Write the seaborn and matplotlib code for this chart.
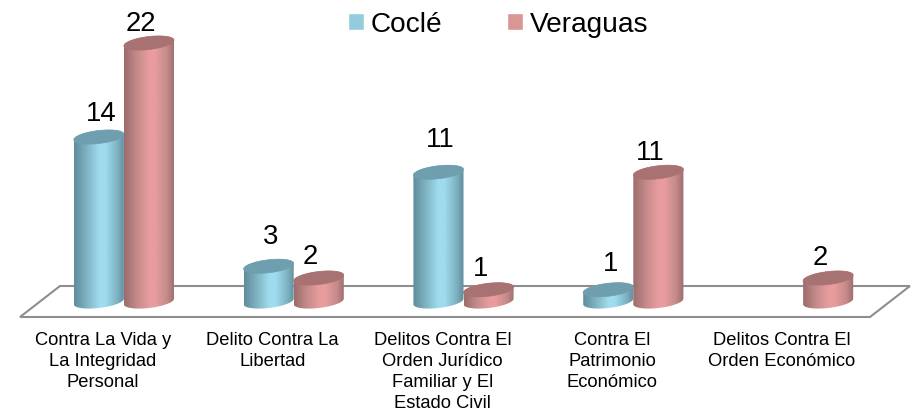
import numpy as np
import pandas as pd
import matplotlib
matplotlib.use('Agg')
import matplotlib.pyplot as plt
from matplotlib.colors import LinearSegmentedColormap
from matplotlib.patches import Polygon
from matplotlib.transforms import ScaledTranslation
import seaborn as sns

categories = ['Contra La Vida y\nLa Integridad\nPersonal',
              'Delito Contra La\nLibertad',
              'Delitos Contra El\nOrden Jurídico\nFamiliar y El\nEstado Civil',
              'Contra El\nPatrimonio\nEconómico',
              'Delitos Contra El\nOrden Económico']
coclé = [14, 3, 11, 1, np.nan]
veraguas = [22, 2, 1, 11, 2]
series_names = ['Coclé', 'Veraguas']

# label nudges, in pixels (the original has them placed by hand)
coclé_label_dy = [23, 29, 32, 26, 0]
veraguas_label_dy = [19, 21, 21, 19, 20]

W, H = 913, 411
sns.set_theme(style='white')
plt.rcParams['font.family'] = ['Liberation Sans', 'DejaVu Sans']
plt.rcParams['text.color'] = 'black'
plt.rcParams['xtick.color'] = 'black'

df = pd.DataFrame({'cat': categories * 2,
                   'serie': [series_names[0]] * 5 + [series_names[1]] * 5,
                   'val': coclé + veraguas})

fig = plt.figure(figsize=(W / 100, H / 100), dpi=100)
ax = fig.add_axes([39 / W, (H - 301.5) / H, 849 / W, 25 * 11.75 / H])
ax.patch.set_alpha(0)

pal = ['#93cddd', '#d99694']
sns.barplot(data=df, x='cat', y='val', hue='serie', palette=pal, width=0.59,
            gap=0, saturation=1, ax=ax)
ax.set_xlim(-0.5, 4.5)
ax.set_ylim(0, 25)

# floor of the 3D chart
def px(x, y):
    return (x / W, (H - y) / H)

floor = Polygon([px(20, 317), px(60, 286), px(910, 286), px(870, 317)], closed=True,
                transform=fig.transFigure, clip_on=False, fc='white', ec='#8e8e8e',
                lw=1.5, zorder=0.5)
ax.add_patch(floor)

# cylinders on top of the (hidden) seaborn bars
shades = [('#5f8d9b', '#7fb3c3', '#9edcee', '#6f9fae'),
          ('#9c6c6c', '#c48a8a', '#e89c9d', '#a87272')]
offsets = [2, -8]
dys = [coclé_label_dy, veraguas_label_dy]
b = 6.5 / 11.75
k = 2.8 / 11.75
t = np.linspace(0, 2 * np.pi, 80)
z = 2
for i, cont in enumerate(ax.containers):
    dark, mid, light, top = shades[i]
    cmap = LinearSegmentedColormap.from_list('c', [(0, dark), (0.25, mid), (0.5, light), (0.62, light), (0.85, mid), (1, dark)])
    for j, bar in enumerate(cont):
        bar.set_visible(False)
        h = bar.get_height()
        if np.isnan(h) or h == 0:
            continue
        x0 = bar.get_x()
        w = bar.get_width()
        cx = x0 + w / 2
        a = w / 2
        # outline: lower half of the base ellipse, then upper half at the top
        lo = t[(t >= np.pi)]
        hi = t[(t <= np.pi)]
        xs = np.r_[cx + a * np.cos(lo), cx + a * np.cos(hi)]
        ys = np.r_[b * np.sin(lo) + k * np.cos(lo), h + b * np.sin(hi) + k * np.cos(hi)]
        body = Polygon(np.c_[xs, ys], closed=True, fc='none', ec='none', clip_on=False, zorder=z)
        ax.add_patch(body)
        im = ax.imshow(np.linspace(0, 1, 200)[None, :], extent=[x0, x0 + w, -1.5, h + 1.5],
                       aspect='auto', cmap=cmap, zorder=z)
        # images stop at the axes box unless told otherwise, the base hangs below it
        im.set_clip_box(fig.bbox)
        im.set_clip_path(body)
        cap = Polygon(np.c_[cx + a * np.cos(t), h + b * np.sin(t) + k * np.cos(t)], closed=True,
                      fc=top, ec=top, lw=0.5, clip_on=False, zorder=z + 0.1)
        ax.add_patch(cap)
        ax.annotate(str(int(h)), (cx, h), xytext=(offsets[i] * 0.72, dys[i][j] * 0.72),
                    textcoords='offset points', ha='center', va='center',
                    fontsize=19.8, color='black', annotation_clip=False, zorder=6)
        z += 0.2

ax.set_xlim(-0.5, 4.5)
ax.set_ylim(0, 25)
ax.set_xlabel('')
ax.set_ylabel('')
ax.set_yticks([])
sns.despine(ax=ax, left=True, bottom=True)
ax.tick_params(axis='x', length=0, pad=22, labelsize=13.2)
shift = ScaledTranslation(-21 / 72 * 0.72, 0, fig.dpi_scale_trans)
for lab in ax.get_xticklabels():
    lab.set_linespacing(1.3)
    lab.set_color('black')
    lab.set_transform(lab.get_transform() + shift)

sns.move_legend(ax, 'center', bbox_to_anchor=(498 / W, (H - 24.5) / H),
                bbox_transform=fig.transFigure, ncol=2, title=None, frameon=False,
                fontsize=20.2, handlelength=0.56, handleheight=0.56,
                handletextpad=0.25, columnspacing=2.3, borderpad=0)

fig.savefig('out.png', dpi=100)
